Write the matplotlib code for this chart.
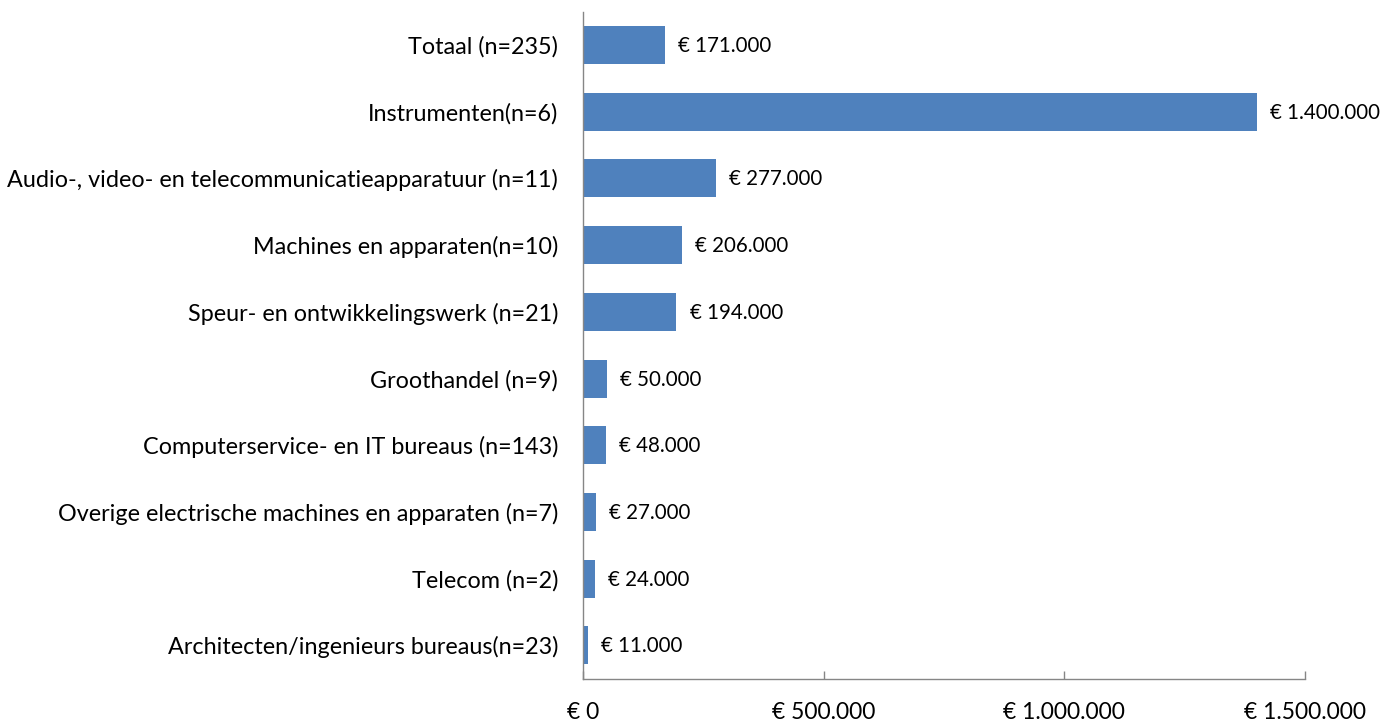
import matplotlib.pyplot as plt
from matplotlib.ticker import FuncFormatter

plt.rcParams['font.family'] = ['Lato', 'DejaVu Sans']

# data, top to bottom as in the chart
categories = [
    "Totaal (n=235)",
    "Instrumenten(n=6)",
    "Audio-, video- en telecommunicatieapparatuur (n=11)",
    "Machines en apparaten(n=10)",
    "Speur- en ontwikkelingswerk (n=21)",
    "Groothandel (n=9)",
    "Computerservice- en IT bureaus (n=143)",
    "Overige electrische machines en apparaten (n=7)",
    "Telecom (n=2)",
    "Architecten/ingenieurs bureaus(n=23)",
]
values = [171000, 1400000, 277000, 206000, 194000, 50000, 48000, 27000, 24000, 11000]
xticks = [0, 500000, 1000000, 1500000]


def euro(v, pos=None):
    return "€ " + f"{int(v):,}".replace(",", ".")


fig = plt.figure(figsize=(13.96, 7.21), dpi=100)
ax = fig.add_axes([0.4176, 0.0587, 0.9348 - 0.4176, 0.9838 - 0.0587])

y = list(range(len(categories)))
ax.barh(y, values, height=0.57, color="#4F81BD")
ax.set_ylim(len(categories) - 0.5, -0.5)
ax.set_xlim(0, 1500000)

for yi, v in zip(y, values):
    ax.annotate(euro(v), (v, yi), xytext=(9.5, -0.7), textcoords="offset points",
                va="center", ha="left", fontsize=14.8, color="#000000")

ax.set_yticks(y)
ax.set_yticklabels(categories, fontsize=16.8)
ax.tick_params(axis="y", length=0, pad=18)
ax.set_xticks(xticks)
ax.xaxis.set_major_formatter(FuncFormatter(euro))
ax.tick_params(axis="x", direction="in", length=6, width=1, color="#868686",
               labelsize=16.5, pad=17)

for s in ["top", "right"]:
    ax.spines[s].set_visible(False)
for s in ["left", "bottom"]:
    ax.spines[s].set_color("#868686")
    ax.spines[s].set_linewidth(1)

plt.savefig("out.png", dpi=100)
